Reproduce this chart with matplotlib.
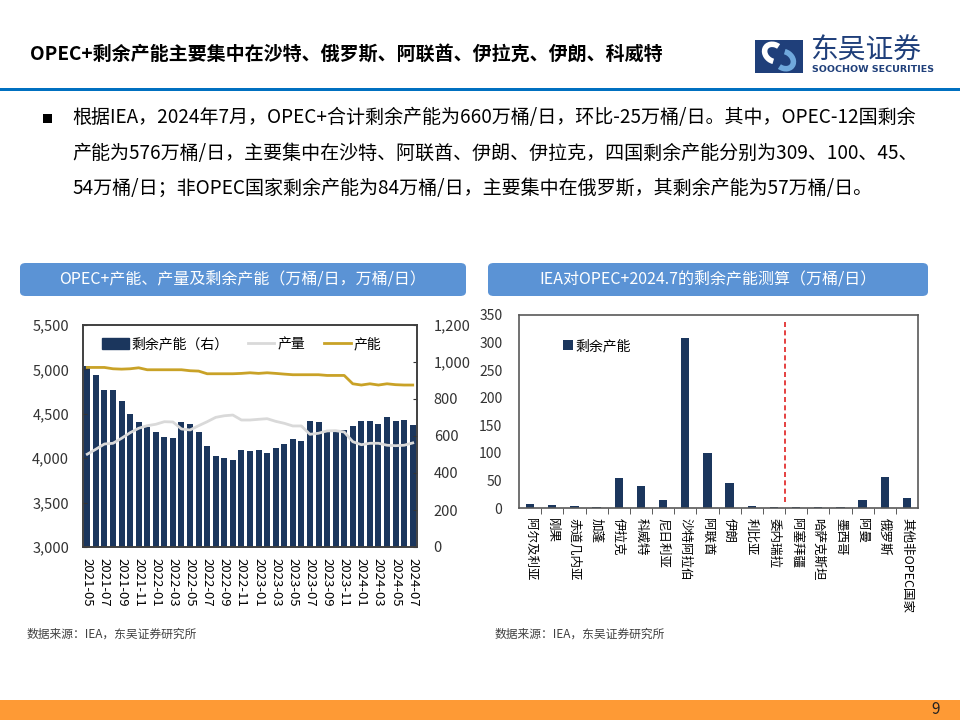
import matplotlib.pyplot as plt
import matplotlib.patches as mpatches
from matplotlib.lines import Line2D
from matplotlib.ticker import FuncFormatter, FixedLocator
import pandas as pd

plt.rcParams['font.family'] = ['Noto Sans CJK SC', 'DejaVu Sans']
plt.rcParams['axes.unicode_minus'] = False

# ---- data: left chart (万桶/日) ----
months = pd.date_range('2021-05-01', periods=39, freq='MS').strftime('%Y-%m').tolist()
spare = [979, 928, 849, 847, 788, 721, 678, 648, 624, 594,
         589, 675, 664, 624, 545, 493, 480, 471, 523, 520,
         527, 509, 536, 556, 583, 572, 680, 673, 622, 622,
         635, 656, 680, 683, 664, 702, 680, 685, 660]
production = [4045, 4101, 4160, 4168, 4224, 4287, 4337, 4366, 4382, 4411,
              4408, 4329, 4318, 4366, 4411, 4460, 4478, 4486, 4430, 4430,
              4438, 4445, 4415, 4393, 4363, 4363, 4269, 4281, 4307, 4310,
              4295, 4186, 4152, 4168, 4168, 4146, 4141, 4146, 4172]
capacity = [5022, 5022, 5022, 5007, 5003, 5007, 5018, 4996, 4996, 4996,
            4996, 4996, 4985, 4981, 4951, 4951, 4951, 4951, 4955, 4962,
            4955, 4962, 4955, 4947, 4940, 4940, 4940, 4940, 4932, 4932,
            4932, 4838, 4824, 4838, 4824, 4838, 4828, 4824, 4824]

# ---- data: right chart (万桶/日) ----
opec_countries = ['阿尔及利亚', '刚果', '赤道几内亚', '加蓬', '伊拉克', '科威特',
                  '尼日利亚', '沙特阿拉伯', '阿联酋', '伊朗', '利比亚', '委内瑞拉']
non_opec_countries = ['阿塞拜疆', '哈萨克斯坦', '墨西哥', '阿曼', '俄罗斯', '其他非OPEC国家']
country_spare = [8, 5, 4, 1, 54, 39, 14, 309, 100, 45, 4, 1,
                 2, 1, 2, 14, 57, 18]

NAVY = '#1B365D'
GOLD = '#C9A227'
GRAY = '#D9D9D9'
PANEL = '#5B93D5'

W, H = 960, 720
fig = plt.figure(figsize=(9.6, 7.2), dpi=100)


def fx(x):
    return x / W


def fy(y):
    return 1 - y / H


def box(x0, y0, x1, y1):
    return [fx(x0), fy(y1), fx(x1) - fx(x0), fy(y0) - fy(y1)]


# header
fig.text(fx(30), fy(55), 'OPEC+剩余产能主要集中在沙特、俄罗斯、阿联酋、伊拉克、伊朗、科威特',
         fontsize=13.7, fontweight='bold', va='center', ha='left')
fig.add_artist(mpatches.Rectangle((0, fy(91)), 1, 3 / H, transform=fig.transFigure,
                                  color='#0070C0', lw=0))

# logo
lax = fig.add_axes(box(755, 40, 803, 73))
lax.set_xlim(0, 48)
lax.set_ylim(0, 33)
lax.axis('off')
lax.add_patch(mpatches.Rectangle((0, 0), 48, 33, color='#1F3F7A', lw=0))
lax.add_patch(mpatches.Arc((19, 20), 20, 16, angle=-35, theta1=90, theta2=300, color='white', lw=4))
lax.add_patch(mpatches.Arc((29, 13), 20, 16, angle=-35, theta1=270, theta2=480, color='#6FA8DC', lw=4))
fig.text(fx(810), fy(51), '东吴证券', fontsize=20, color='#1F3F7A', va='center', ha='left')
fig.text(fx(812), fy(70), 'SOOCHOW SECURITIES', fontsize=6.8, fontweight='bold',
         color='#1F3F7A', va='center', ha='left', family='DejaVu Sans')

# bullet text
fig.add_artist(mpatches.Rectangle((fx(43), fy(123)), 9 / W, 9 / H, transform=fig.transFigure,
                                  color='black', lw=0))
lines = ['根据IEA，2024年7月，OPEC+合计剩余产能为660万桶/日，环比-25万桶/日。其中，OPEC-12国剩余',
         '产能为576万桶/日，主要集中在沙特、阿联酋、伊朗、伊拉克，四国剩余产能分别为309、100、45、',
         '54万桶/日；非OPEC国家剩余产能为84万桶/日，主要集中在俄罗斯，其剩余产能为57万桶/日。']
for i, t in enumerate(lines):
    fig.text(fx(72), fy(118 + 35 * i), t, fontsize=13.7, va='center', ha='left')

# panel headers
for (x0, x1, title) in [(20, 466, 'OPEC+产能、产量及剩余产能（万桶/日，万桶/日）'),
                        (488, 928, 'IEA对OPEC+2024.7的剩余产能测算（万桶/日）')]:
    fig.add_artist(mpatches.FancyBboxPatch((fx(x0), fy(296)), fx(x1) - fx(x0), 33 / H,
                                           boxstyle='round,pad=0,rounding_size=0.006',
                                           transform=fig.transFigure, color=PANEL, lw=0))
    fig.text((fx(x0) + fx(x1)) / 2, fy(280), title, color='white', fontsize=11.5,
             ha='center', va='center')

# ---- left chart ----
axl = fig.add_axes(box(83, 325, 417, 547))
axb = axl.twinx()
axl.set_zorder(axb.get_zorder() + 1)
axl.patch.set_visible(False)

x = list(range(len(months)))
axb.bar(x, spare, width=0.7, color=NAVY)
axb.set_ylim(0, 1200)
axb.set_yticks(range(0, 1201, 200))
axb.yaxis.set_major_formatter(FuncFormatter(lambda v, p: f'{int(v):,}'))
axb.tick_params(axis='y', direction='in', length=3, pad=12, labelsize=10.5, colors='#333333')

axl.plot(x, production, color=GRAY, lw=2)
axl.plot(x, capacity, color=GOLD, lw=2)
axl.set_ylim(3000, 5500)
axl.set_yticks(range(3000, 5501, 500))
axl.yaxis.set_major_formatter(FuncFormatter(lambda v, p: f'{int(v):,}'))
axl.tick_params(axis='y', direction='in', length=3, pad=10, labelsize=10.5, colors='#333333')
axl.set_xlim(-0.5, len(months) - 0.5)
axl.set_xticks(x[::2])
axl.set_xticklabels(months[::2], rotation=-90, fontsize=9.5)
axl.tick_params(axis='x', length=0, pad=8)
for ax in (axb, axl):
    for s in ax.spines.values():
        s.set_color('#404040')
        s.set_linewidth(1.2)

handles = [mpatches.Patch(color=NAVY), Line2D([], [], color=GRAY, lw=2),
           Line2D([], [], color=GOLD, lw=2)]
axl.legend(handles, ['剩余产能（右）', '产量', '产能'], ncol=3, loc='upper left',
           bbox_to_anchor=(0.02, 1.0), frameon=False, fontsize=10, handlelength=1.9,
           handleheight=0.8, handletextpad=0.2, columnspacing=1.4)

fig.text(fx(27), fy(634), '数据来源：IEA，东吴证券研究所', fontsize=8.5, style='italic',
         color='#404040', va='center', ha='left')

# ---- right chart ----
axr = fig.add_axes(box(519, 315, 918, 508))
countries = opec_countries + non_opec_countries
xc = list(range(len(countries)))
axr.bar(xc, country_spare, width=0.38, color=NAVY, label='剩余产能')
axr.set_xlim(-0.5, len(countries) - 0.5)
axr.set_ylim(0, 350)
axr.set_yticks(range(0, 351, 50))
axr.tick_params(axis='y', length=0, pad=12, labelsize=10, colors='#333333')
axr.set_xticks(xc)
axr.set_xticklabels(countries, rotation=-90, fontsize=9)
axr.tick_params(axis='x', which='major', length=0, pad=7)
axr.xaxis.set_minor_locator(FixedLocator([i - 0.5 for i in xc[1:]]))
axr.tick_params(axis='x', which='minor', length=4, color='#404040')
split = len(opec_countries) - 0.5
axr.vlines(split, 10, 340, colors='#E02020', linestyles=(0, (3, 2)), lw=1.2)
for s in axr.spines.values():
    s.set_color('#595959')
    s.set_linewidth(1.2)
axr.legend(loc='upper left', bbox_to_anchor=(0.08, 0.94), frameon=False, fontsize=10,
           handlelength=0.7, handleheight=0.7, handletextpad=0.2)

fig.text(fx(495), fy(634), '数据来源：IEA，东吴证券研究所', fontsize=8.5, style='italic',
         color='#404040', va='center', ha='left')

# footer
fig.add_artist(mpatches.Rectangle((0, 0), 1, 20 / H, transform=fig.transFigure,
                                  color='#FE9A35', lw=0))
fig.text(fx(940), fy(710), '9', fontsize=11, ha='right', va='center', color='#222222')

fig.savefig('out.png', dpi=100)
